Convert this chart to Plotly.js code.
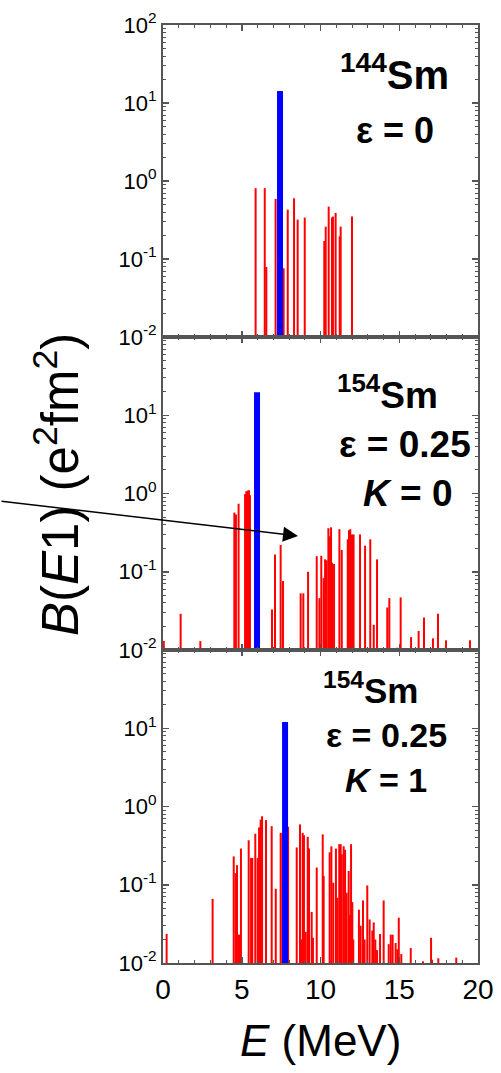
<!DOCTYPE html>
<html>
<head>
<meta charset="utf-8">
<script src="https://cdn.plot.ly/plotly-3.0.1.min.js"></script>
<style>html,body{margin:0;padding:0;background:#fff;}#chart{width:501px;height:1073px;}</style>
</head>
<body>
<div id="chart"></div>
<script>
// ---- Data ----
// Panel 1: 144Sm, eps = 0
const sm144_E   = [5.88, 6.46, 6.56, 7.15, 7.66, 7.92, 8.32, 8.55, 9.00, 10.24, 10.33, 10.52, 10.73, 10.79, 10.96, 11.22, 11.28, 12.00];
const sm144_BE1 = [0.81, 0.81, 0.079, 0.59, 0.076, 0.43, 0.60, 0.32, 0.34, 0.17, 0.26, 0.47, 0.34, 0.35, 0.39, 0.195, 0.26, 0.35];
const sm144_pdr_E = [7.43];
const sm144_pdr_BE1 = [14.3];

// Panel 2: 154Sm, eps = 0.25, K = 0
const k0_E = [0.05, 1.12, 2.37, 4.53, 4.63, 4.80, 5.21, 5.29, 5.38, 5.46,
  5.52, 6.92, 7.11, 7.47, 7.62, 8.74, 8.91, 9.21, 9.76, 9.93,
  10.05, 10.20, 10.29, 10.39, 10.50, 10.60, 10.67, 10.73, 10.86, 11.20,
  11.35, 11.73, 11.81, 11.89, 12.00, 12.10, 12.51, 12.83, 13.16, 13.38,
  13.59, 14.24, 14.37, 14.88, 15.09, 15.75, 16.23, 16.57, 17.14, 17.46,
  17.97, 19.49];
const k0_BE1 = [0.013, 0.029, 0.013, 0.57, 0.54, 0.74, 0.98, 1.07, 1.09, 1.10,
  0.95, 0.033, 0.166, 0.22, 0.076, 0.053, 0.053, 0.10, 0.158, 0.046,
  0.16, 0.083, 0.144, 0.14, 0.36, 0.285, 0.37, 0.13, 0.126, 0.35,
  0.19, 0.26, 0.34, 0.35, 0.30, 0.30, 0.30, 0.215, 0.26, 0.021,
  0.144, 0.035, 0.046, 0.0107, 0.047, 0.0146, 0.0175, 0.026, 0.0141, 0.029,
  0.0133, 0.0133];
const k0_pdr_E = [5.97];
const k0_pdr_BE1 = [19.7];

// Panel 3: 154Sm, eps = 0.25, K = 1
const k1_E = [0.23, 3.15, 4.49, 4.61, 4.70, 4.78, 4.85, 4.95,
  5.44, 5.59, 5.67, 5.86, 6.01, 6.10, 6.20, 6.29, 6.54, 6.90,
  7.16, 7.47, 7.58, 7.94, 8.49, 8.70, 8.80, 8.87, 8.95, 9.06,
  9.19, 9.27, 9.44, 9.52, 9.76, 10.14, 10.20, 10.58, 10.69, 10.81,
  10.98, 11.07, 11.19, 11.28, 11.35, 11.47, 11.56, 11.66, 11.79, 11.87,
  11.94, 12.02, 12.08, 12.44, 12.55, 12.70, 12.80, 12.97, 13.12, 13.29,
  13.38, 13.48, 13.59, 13.78, 14.01, 14.33, 14.46, 14.58, 14.77, 14.88,
  14.97, 15.13, 15.73, 16.51, 17.02, 17.08, 17.48, 18.62];
const k1_BE1 = [0.0235, 0.066, 0.23, 0.141, 0.178, 0.023, 0.023, 0.29,
  0.37, 0.22, 0.22, 0.45, 0.22, 0.54, 0.68, 0.75, 0.67, 0.56,
  0.089, 0.46, 0.46, 0.55, 0.30, 0.59, 0.020, 0.46, 0.43, 0.025,
  0.41, 0.29, 0.045, 0.021, 0.166, 0.44, 0.13, 0.26, 0.31, 0.106,
  0.29, 0.068, 0.33, 0.33, 0.245, 0.31, 0.28, 0.079, 0.15, 0.041,
  0.33, 0.060, 0.020, 0.048, 0.030, 0.063, 0.020, 0.098, 0.036, 0.026,
  0.033, 0.020, 0.0146, 0.0235, 0.063, 0.0174, 0.023, 0.023, 0.018, 0.015,
  0.038, 0.013, 0.0155, 0.0105, 0.021, 0.011, 0.0115, 0.0117];
const k1_pdr_E = [7.75];
const k1_pdr_BE1 = [12.0];

const yTickVals = [0.01, 0.1, 1, 10, 100];
const yTickTextTop = ['10<sup>-2</sup>', '10<sup>-1</sup>', '10<sup>0</sup>', '10<sup>1</sup>', '10<sup>2</sup>'];
const yTickTextLow = ['10<sup>-2</sup>', '10<sup>-1</sup>', '10<sup>0</sup>', '10<sup>1</sup>', ' '];
const xTickVals = [0, 5, 10, 15, 20];
const xTickText = ['0', '5', '10', '15', '20'];

// ---- Helpers ----
const BASE = 0.01; // bottom of the log axis
function sticks(E, B, color, width, xa, ya) {
  const xs = [], ys = [];
  for (let i = 0; i < E.length; i++) {
    xs.push(E[i], E[i], null);
    ys.push(BASE, B[i], null);
  }
  return {x: xs, y: ys, xaxis: xa, yaxis: ya, type: 'scatter', mode: 'lines',
          line: {color: color, width: width}, hoverinfo: 'skip', showlegend: false,
          connectgaps: false};
}

const RED = '#ff0000', BLUE = '#0000ff';
const data = [
  sticks(sm144_E, sm144_BE1, RED, 2, 'x', 'y'),
  sticks(sm144_pdr_E, sm144_pdr_BE1, BLUE, 6, 'x', 'y'),
  sticks(k0_E, k0_BE1, RED, 2, 'x2', 'y2'),
  sticks(k0_pdr_E, k0_pdr_BE1, BLUE, 6, 'x2', 'y2'),
  sticks(k1_E, k1_BE1, RED, 2, 'x3', 'y3'),
  sticks(k1_pdr_E, k1_pdr_BE1, BLUE, 6, 'x3', 'y3')
];

// geometry
const W = 501, H = 1073, ML = 163, MR = 23, MT = 25, MB = 110;
const PW = W - ML - MR, PH = H - MT - MB;
const px = v => (v - ML) / PW;
const py = v => (H - MB - v) / PH;

const AX = '#555555';
const FONT = 'Liberation Sans, Arial, sans-serif';
function xAxis(anchor, labels) {
  return {domain: [0, 1], anchor: anchor, range: [0, 20], tickmode: 'array',
    tickvals: xTickVals, ticktext: xTickText, showticklabels: labels,
    ticks: 'inside', ticklen: 6, tickwidth: 1.5, tickcolor: AX,
    minor: {dtick: 1, tick0: 0, ticks: 'inside', ticklen: 3, tickwidth: 1, tickcolor: AX, showgrid: false},
    showline: true, linecolor: AX, linewidth: 2, mirror: 'ticks',
    showgrid: false, zeroline: false,
    tickfont: {family: FONT, size: 28, color: '#000'}};
}
function yAxis(anchor, domain, ttext) {
  return {domain: domain, anchor: anchor, type: 'log', range: [-2, 2],
    tickmode: 'array', tickvals: yTickVals, ticktext: ttext,
    ticks: 'inside', ticklen: 6, tickwidth: 1.5, tickcolor: AX,
    minor: {dtick: 'D1', ticks: 'inside', ticklen: 3, tickwidth: 1, tickcolor: AX, showgrid: false},
    showline: true, linecolor: AX, linewidth: 2, mirror: 'ticks',
    showgrid: false, zeroline: false,
    tickfont: {family: FONT, size: 22, color: '#000'}};
}

const d1 = 313 / PH, d2 = 626 / PH;
const bold = s => ({family: FONT, size: s, color: '#000', weight: 'bold'});
function label(text, cx, cy, size) {
  return {xref: 'paper', yref: 'paper', x: px(cx), y: py(cy), xanchor: 'center', yanchor: 'middle',
    text: text, showarrow: false, font: bold(size)};
}

const layout = {
  width: W, height: H, margin: {l: ML, r: MR, t: MT, b: MB, pad: 0},
  paper_bgcolor: '#fff', plot_bgcolor: '#fff', showlegend: false,
  xaxis: xAxis('y', false), yaxis: yAxis('x', [d2, 1], yTickTextTop),
  xaxis2: xAxis('y2', false), yaxis2: yAxis('x2', [d1, d2], yTickTextLow),
  xaxis3: xAxis('y3', true), yaxis3: yAxis('x3', [0, d1], yTickTextLow),
  annotations: [
    label('<sup>144</sup>Sm', 394, 72, 40),
    label('\u03b5 = 0', 395, 131, 36),
    label('<sup>154</sup>Sm', 387, 392, 37),
    label('\u03b5 = 0.25', 405, 445, 37),
    label('<i>K</i> = 0', 407, 493, 37),
    label('<sup>154</sup>Sm', 370, 688, 35),
    label('\u03b5 = 0.25', 386, 735, 34),
    label('<i>K</i> = 1', 386, 780, 34),
    {xref: 'paper', yref: 'paper', x: px(57), y: py(484), xanchor: 'center', yanchor: 'middle',
     textangle: -90, showarrow: false,
     text: '<i>B</i>(<i>E</i>1) (e<sup>2</sup>fm<sup>2</sup>)',
     font: {family: FONT, size: 51, color: '#000'}},
    {xref: 'paper', yref: 'paper', x: 0.5, y: py(1040), xanchor: 'center', yanchor: 'middle',
     showarrow: false, text: '<i>E</i> (MeV)',
     font: {family: FONT, size: 44, color: '#000'}},
    {xref: 'paper', yref: 'paper', x: px(298), y: py(536), text: '', showarrow: true,
     ax: -298, ay: -35, arrowhead: 2, arrowsize: 2, arrowwidth: 1.5, arrowcolor: '#000', standoff: 0}
  ]
};

Plotly.newPlot('chart', data, layout, {displayModeBar: false, staticPlot: true});
</script>
</body>
</html>
